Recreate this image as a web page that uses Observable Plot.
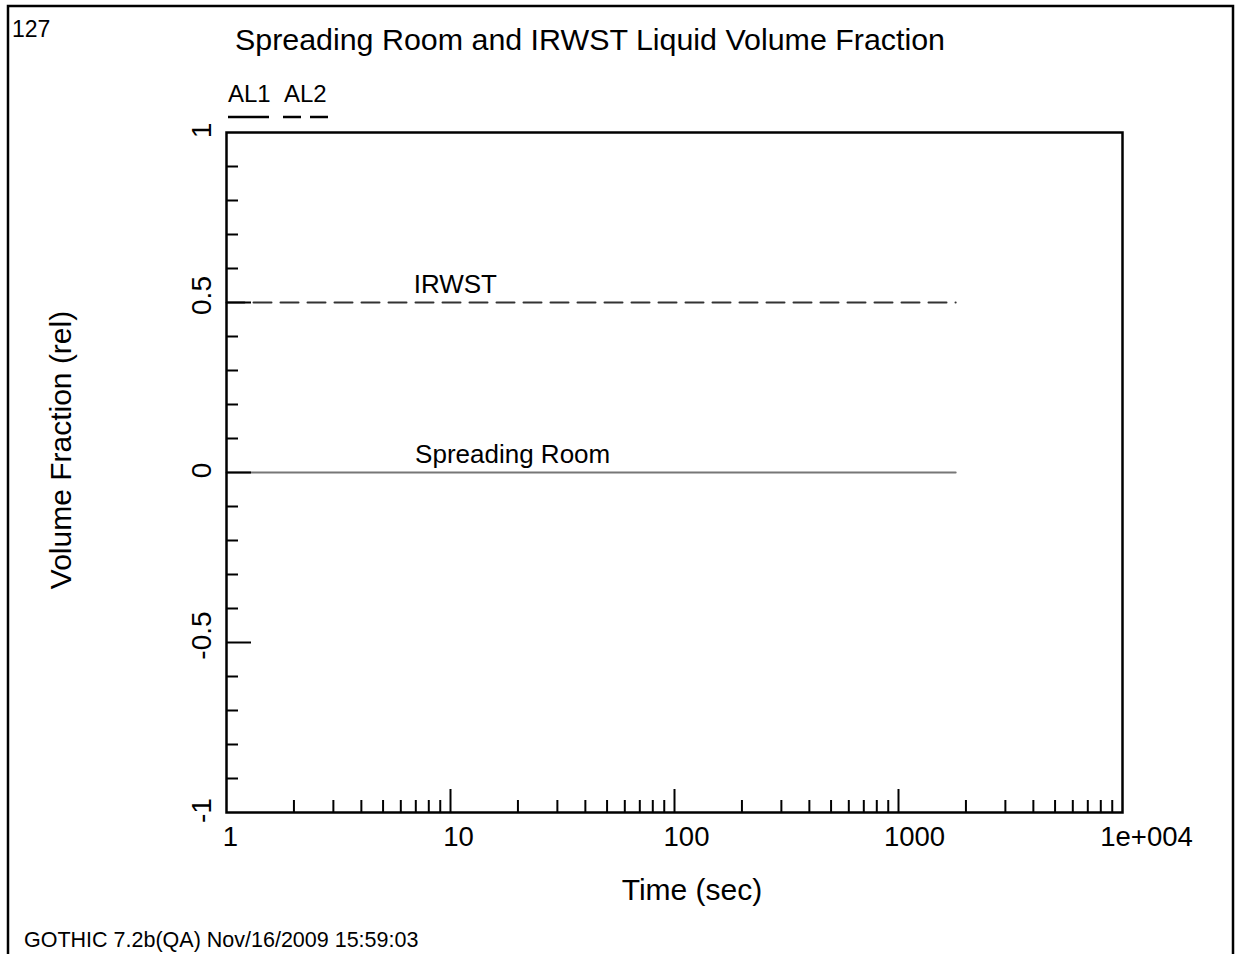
<!DOCTYPE html>
<html><head><meta charset="utf-8">
<script src="https://cdn.jsdelivr.net/npm/d3@7"></script>
<script src="https://cdn.jsdelivr.net/npm/@observablehq/plot@0.6"></script>
<style>
body{margin:0;background:#fff;}
svg{display:block;}
</style>
</head><body><div id="chart"></div>
<script>
// ---- data ----
const time = [1, 1800];
const spreadingRoom = [0, 0];
const irwst = [0.5, 0.5];
const seriesNames = ["Spreading Room", "IRWST"];
const seriesLabelTime = [6.95, 6.85];
const seriesLabelValue = [0, 0.5];

const xMajorTicks = [1, 10, 100, 1000, 10000];
const xTickLabels = ["1", "10", "100", "1000", "1e+004"];
const xLongTicks = [10, 100, 1000];
const xMinorTicks = [2,3,4,5,6,7,8,9, 20,30,40,50,60,70,80,90, 200,300,400,500,600,700,800,900, 2000,3000,4000,5000,6000,7000,8000,9000];
const yMajorTicks = [-1, -0.5, 0, 0.5, 1];
const yTickLabels = ["-1", "-0.5", "0", "0.5", "1"];
const yLongTicks = [-0.5, 0, 0.5];
const yMinorTicks = [-0.9,-0.8,-0.7,-0.6,-0.4,-0.3,-0.2,-0.1,0.1,0.2,0.3,0.4,0.6,0.7,0.8,0.9];

const legendNames = ["AL1", "AL2"];
const titleText = "Spreading Room and IRWST Liquid Volume Fraction";
const pageNumber = "127";
const xTitle = "Time (sec)";
const yTitle = "Volume Fraction (rel)";
const footerText = "GOTHIC 7.2b(QA) Nov/16/2009 15:59:03";

// ---- layout ----
const W = 1236, H = 954;
const mL = 226, mR = 114, mT = 132, mB = 142;
const innerW = W - mL - mR, innerH = H - mT - mB;
const FONT = '"Liberation Sans", Arial, Helvetica, sans-serif';

const srData = time.map((t, i) => ({t, v: spreadingRoom[i]}));
const irData = time.map((t, i) => ({t, v: irwst[i]}));
const labelData = seriesNames.map((n, i) => ({n, t: seriesLabelTime[i], v: seriesLabelValue[i]}));

const plot = Plot.plot({
  width: W, height: H,
  marginLeft: mL, marginRight: mR, marginTop: mT, marginBottom: mB,
  style: {fontFamily: FONT, background: "#fff", color: "#000"},
  x: {type: "log", domain: [1, 10000], axis: null},
  y: {domain: [-1, 1], axis: null},
  marks: [
    Plot.line(srData, {x: "t", y: "v", stroke: "#777", strokeWidth: 2}),
    Plot.line(irData, {x: "t", y: "v", stroke: "#333", strokeWidth: 2, strokeDasharray: "18,9"}),
    Plot.text(labelData, {x: "t", y: "v", text: "n", textAnchor: "start", lineAnchor: "bottom", dy: -10, fontSize: 26, fill: "#000"}),
    // ticks (inward)
    Plot.ruleY(yMinorTicks, {y: d => d, insetRight: innerW - 12, stroke: "#000", strokeWidth: 2}),
    Plot.ruleY(yLongTicks, {y: d => d, insetRight: innerW - 25, stroke: "#000", strokeWidth: 2}),
    Plot.ruleX(xMinorTicks, {x: d => d, insetTop: innerH - 12, stroke: "#000", strokeWidth: 2}),
    Plot.ruleX(xLongTicks, {x: d => d, insetTop: innerH - 23, stroke: "#000", strokeWidth: 2}),
    Plot.frame({stroke: "#000", strokeWidth: 2.5}),
    // tick labels
    ...xMajorTicks.map((v, i) => Plot.text([v], {
      x: d => d, frameAnchor: "bottom", text: () => xTickLabels[i], textAnchor: "middle",
      dy: 33, dx: xTickLabels[i].length * 4, lineAnchor: "bottom", fontSize: 27.5, fill: "#000"
    })),
    ...yMajorTicks.map((v, i) => Plot.text([v], {
      y: d => d, frameAnchor: "left", text: () => yTickLabels[i], rotate: -90, textAnchor: "middle",
      dx: -24, dy: yTickLabels[i].includes(".") ? -7 : -2, lineAnchor: "middle", fontSize: 28, fill: "#000"
    }))
  ]
});

const svg = d3.select(plot);
svg.append("rect").attr("x", 8).attr("y", 6).attr("width", 1225).attr("height", 1000)
  .attr("fill", "none").attr("stroke", "#000").attr("stroke-width", 2.5);
const t = (x, y, s, size, anchor = "start") => svg.append("text").attr("x", x).attr("y", y)
  .attr("font-size", size).attr("text-anchor", anchor).attr("fill", "#000").attr("font-family", FONT).text(s);
t(12, 37, pageNumber, 23);
t(590, 50, titleText, 30.4, "middle");
t(228, 102, legendNames[0], 24);
t(284, 102, legendNames[1], 24);
svg.append("line").attr("x1", 228).attr("x2", 269).attr("y1", 117).attr("y2", 117).attr("stroke", "#000").attr("stroke-width", 2.5);
svg.append("line").attr("x1", 283).attr("x2", 328).attr("y1", 117).attr("y2", 117).attr("stroke", "#000").attr("stroke-width", 2.5).attr("stroke-dasharray", "18,9");
t(692, 900, xTitle, 30, "middle");
svg.append("text").attr("transform", "translate(60,450) rotate(-90)").attr("dy", "0.35em")
  .attr("font-size", 30).attr("text-anchor", "middle").attr("fill", "#000").attr("font-family", FONT).text(yTitle);
t(24, 947, footerText, 21.5);

document.getElementById("chart").appendChild(plot);
</script>
</body></html>
